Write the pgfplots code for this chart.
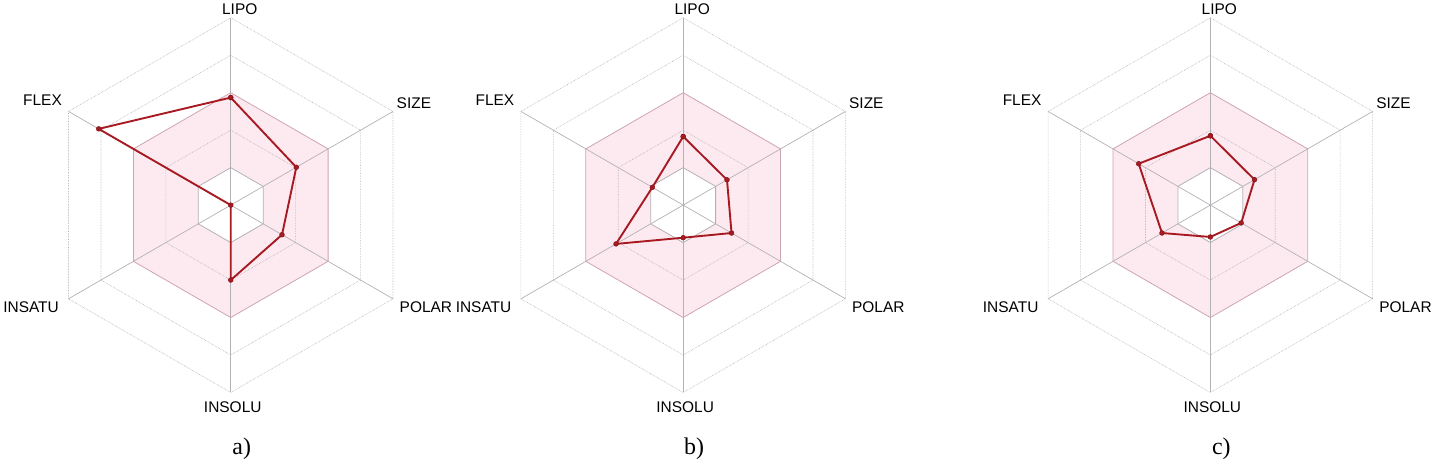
\documentclass[border=0pt]{standalone}
\usepackage{pgfplots}
\pgfplotsset{compat=1.18}
\usepackage{pgfplotstable}
\usepackage{fontspec}
\setmainfont{Liberation Sans}
\newfontfamily\seriffont{Liberation Serif}
\definecolor{pinkfill}{RGB}{252,234,240}
\definecolor{pinkedge}{RGB}{205,165,175}
\definecolor{spoke}{RGB}{180,177,182}
\definecolor{ring}{RGB}{175,175,178}
\definecolor{datared}{RGB}{168,26,34}

% unit hexagon: angle, radius
\pgfplotstableread{
a r
90 1
30 1
-30 1
-90 1
-150 1
150 1
90 1
}\hexring

% spokes through the centre
\pgfplotstableread{
a r
90 5
-90 5
}\spokeA
\pgfplotstableread{
a r
30 5
-150 5
}\spokeB
\pgfplotstableread{
a r
-30 5
150 5
}\spokeC

% order: LIPO, SIZE, POLAR, INSOLU, INSATU, FLEX (radius in ring units, 0-5)
\pgfplotstableread{
a r
90 2.87
30 2.02
-30 1.58
-90 2.00
-150 0.00
150 4.07
90 2.87
}\dataA
\pgfplotstableread{
a r
90 1.83
30 1.35
-30 1.49
-90 0.87
-150 2.07
150 0.95
90 1.83
}\dataB
\pgfplotstableread{
a r
90 1.85
30 1.36
-30 0.95
-90 0.85
-150 1.49
150 2.21
90 1.85
}\dataC

\newcommand{\U}{37.6}
\newcommand{\CY}{207}

\newcommand{\ringplot}[3]{% cx, factor, style
  \addplot[#3] table[x expr={#1+\U*#2*\thisrow{r}*cos(\thisrow{a})},
                     y expr={\CY-\U*#2*\thisrow{r}*sin(\thisrow{a})}] {\hexring};}
\newcommand{\polyplot}[3]{% cx, table, style
  \addplot[#3] table[x expr={#1+\U*\thisrow{r}*cos(\thisrow{a})},
                     y expr={\CY-\U*\thisrow{r}*sin(\thisrow{a})}] {#2};}

\newcommand{\radar}[3]{% cx, data table, subtitle
  \ringplot{#1}{3}{draw=none, fill=pinkfill}
  \ringplot{#1}{1}{draw=none, fill=white}
  \ringplot{#1}{2}{ring, densely dotted, line width=0.6pt}
  \ringplot{#1}{4}{ring, densely dotted, line width=0.6pt}
  \ringplot{#1}{5}{ring, densely dotted, line width=0.6pt}
  \polyplot{#1}{\spokeA}{spoke, line width=0.7pt}
  \polyplot{#1}{\spokeB}{spoke, line width=0.7pt}
  \polyplot{#1}{\spokeC}{spoke, line width=0.7pt}
  \ringplot{#1}{1}{spoke, line width=0.8pt}
  \ringplot{#1}{3}{pinkedge, line width=0.8pt}
  \polyplot{#1}{#2}{datared, line width=1.9pt, line join=round, mark=*, mark size=2.4pt, mark options={fill=datared, draw=datared!80!black, line width=0.5pt}}
  \node[font=\fontsize{15.5}{16}\selectfont] at (axis cs:#1+9,10) {LIPO};
  \node[font=\fontsize{15.5}{16}\selectfont, anchor=west] at (axis cs:#1+163,105) {SIZE};
  \node[font=\fontsize{15.5}{16}\selectfont, anchor=west] at (axis cs:#1+166,309) {POLAR};
  \node[font=\fontsize{15.5}{16}\selectfont] at (axis cs:#1+2,410) {INSOLU};
  \node[font=\fontsize{15.5}{16}\selectfont, anchor=east] at (axis cs:#1-169,309) {INSATU};
  \node[font=\fontsize{15.5}{16}\selectfont, anchor=east] at (axis cs:#1-166,102) {FLEX};
  \node[font=\seriffont\fontsize{24}{26}\selectfont] at (axis cs:#1+11,451) {#3};
}

\begin{document}
\begin{tikzpicture}
\begin{axis}[
  at={(0,0)}, anchor=south west,
  width=1435pt, height=466pt, scale only axis,
  xmin=0, xmax=1435, ymin=0, ymax=466,
  y dir=reverse,
  hide axis, clip=false,
]
\radar{226}{\dataA}{a)}
\radar{680}{\dataB}{b)}
\radar{1209}{\dataC}{c)}
\end{axis}
\end{tikzpicture}
\end{document}
